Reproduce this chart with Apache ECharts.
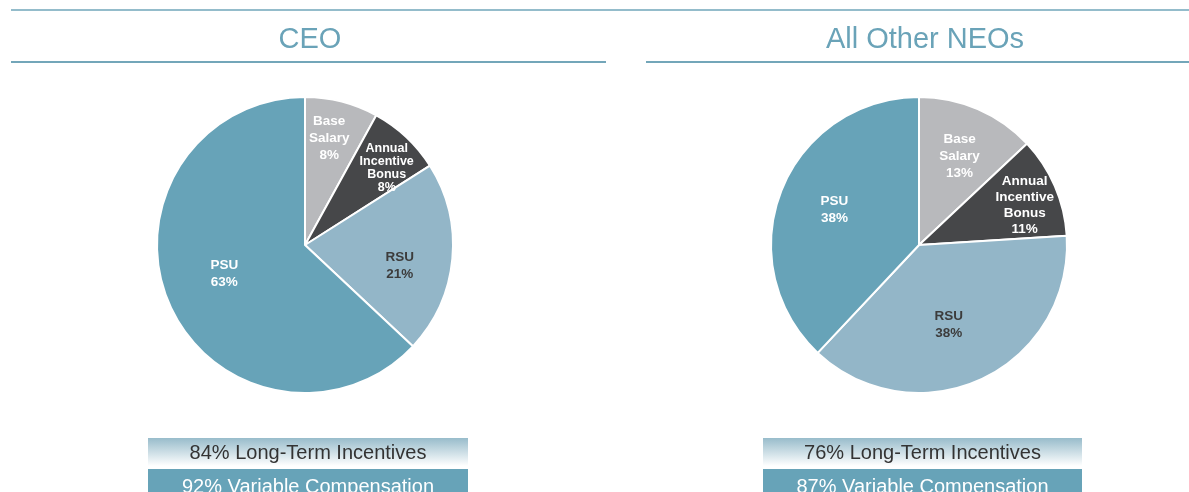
<!DOCTYPE html>
<html>
<head>
<meta charset="utf-8">
<title>Pay Mix</title>
<script src="https://cdn.jsdelivr.net/npm/echarts@6/dist/echarts.min.js"></script>
<style>
  html, body { margin: 0; padding: 0; background: #fff; }
  #chart { width: 1189px; height: 492px; }
</style>
</head>
<body>
<div id="chart"></div>
<script>
  // 薪酬构成
  const categories = ['Base Salary', 'Annual Incentive Bonus', 'RSU', 'PSU'];
  const ceoValues = [8, 8, 21, 63];
  const neoValues = [13, 11, 38, 38];
  const panelTitles = ['CEO', 'All Other NEOs'];

  const sliceColors = ['#b8b9bc', '#464749', '#93b6c8', '#67a3b8'];
  const labelColors = ['#ffffff', '#ffffff', '#3c3c3c', '#ffffff'];
  const fontFamily = '"Liberation Sans", Arial, sans-serif';

  const panels = [
    { cx: 305, values: ceoValues, offsets: [[5, -32], [29, -21], [18, 14], [-10, -2]], tight: true },
    { cx: 919, values: neoValues, offsets: [[10, -18], [35, -9], [-3, 10], [-13, -7]], tight: false },
  ];

  const chart = echarts.init(document.getElementById('chart'), null, { renderer: 'canvas' });

  const series = panels.map((p) => ({
    type: 'pie',
    center: [p.cx, 245],
    radius: 148,
    startAngle: 90,
    clockwise: true,
    silent: true,
    animation: false,
    itemStyle: { borderColor: '#ffffff', borderWidth: 2 },
    labelLine: { show: false },
    data: categories.map((name, i) => ({
      name: name,
      value: p.values[i],
      itemStyle: { color: sliceColors[i] },
      label: {
        show: true,
        position: 'inside',
        offset: p.offsets[i],
        color: labelColors[i],
        fontFamily: fontFamily,
        fontWeight: 'bold',
        fontSize: p.tight && i === 1 ? 12.5 : 13.5,
        lineHeight: p.tight && i === 1 ? 13 : (i === 1 ? 16 : 17),
        align: 'center',
        formatter: (params) => params.name.split(' ').join('\n') + '\n' + params.value + '%',
      },
    })),
  }));

  const graphics = [
    { type: 'line', shape: { x1: 11, y1: 10, x2: 1189, y2: 10 }, style: { stroke: '#94bccb', lineWidth: 2 } },
    { type: 'line', shape: { x1: 11, y1: 62, x2: 606, y2: 62 }, style: { stroke: '#73a6b9', lineWidth: 2 } },
    { type: 'line', shape: { x1: 646, y1: 62, x2: 1189, y2: 62 }, style: { stroke: '#73a6b9', lineWidth: 2 } },
  ];

  const boxes = [
    { x: 148, w: 320, values: ceoValues },
    { x: 763, w: 319, values: neoValues },
  ];
  boxes.forEach((b) => {
    const lti = b.values[2] + b.values[3];
    const variable = 100 - b.values[0];
    graphics.push({
      type: 'rect',
      shape: { x: b.x, y: 438, width: b.w, height: 28 },
      style: {
        fill: new echarts.graphic.LinearGradient(0, 0, 0, 1, [
          { offset: 0, color: '#98bccb' },
          { offset: 1, color: '#ffffff' },
        ]),
      },
    });
    graphics.push({
      type: 'text',
      x: b.x + b.w / 2,
      y: 453,
      style: {
        text: lti + '% Long-Term Incentives',
        fill: '#333333',
        font: '20px ' + fontFamily,
        textAlign: 'center',
        textVerticalAlign: 'middle',
      },
    });
    graphics.push({
      type: 'rect',
      shape: { x: b.x, y: 469, width: b.w, height: 30 },
      style: { fill: '#67a3b8' },
    });
    graphics.push({
      type: 'text',
      x: b.x + b.w / 2,
      y: 487,
      style: {
        text: variable + '% Variable Compensation',
        fill: '#ffffff',
        font: '20px ' + fontFamily,
        textAlign: 'center',
        textVerticalAlign: 'middle',
      },
    });
  });

  chart.setOption({
    animation: false,
    title: panelTitles.map((t, i) => ({
      text: t,
      left: i === 0 ? 305 : 920,
      top: 20,
      textAlign: 'center',
      textStyle: { color: '#6aa3b8', fontSize: 29, fontWeight: 'normal', fontFamily: fontFamily },
    })),
    series: series,
    graphic: graphics,
  });

  window.addEventListener('resize', function () {
    chart && chart.resize();
  });
</script>
</body>
</html>
